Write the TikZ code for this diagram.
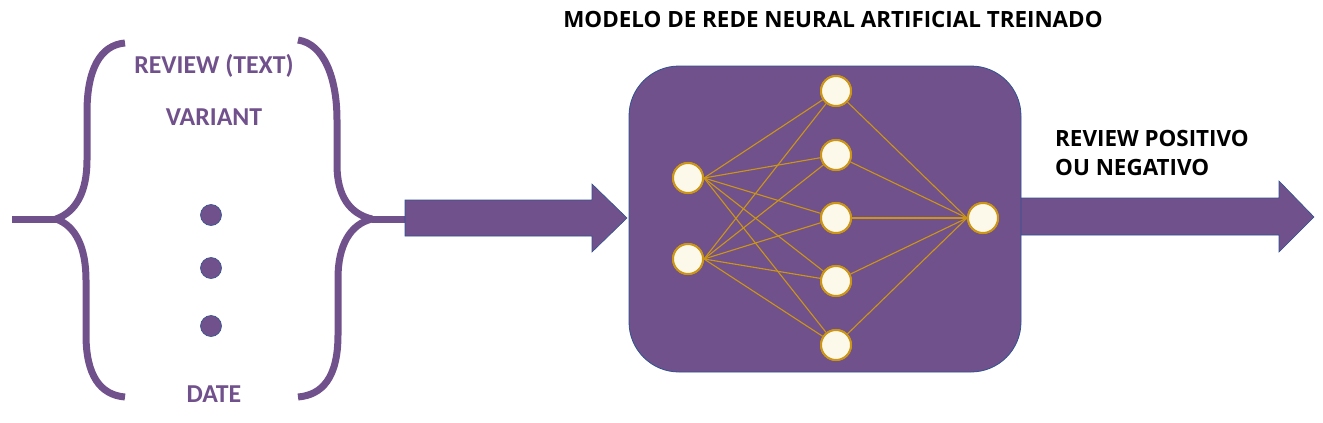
\documentclass[tikz,border=0pt]{standalone}
\usepackage{fontspec}
\setmainfont{Open Sans}
\newfontfamily\calibri{Carlito}
\usepackage{tikz}

\definecolor{lila}{RGB}{113,81,140}
\definecolor{ouro}{RGB}{204,150,20}
\definecolor{creme}{RGB}{252,248,234}
\definecolor{borda}{RGB}{47,82,143}

\begin{document}
\begin{tikzpicture}[x=1pt,y=-1pt,
		neuron/.style={circle, draw=ouro, line width=2pt, inner sep=0pt, minimum size=30pt, fill=creme},
		peso/.style={ouro, line width=1.1pt},
		chave/.style={lila, line width=7pt},
		campo/.style={lila, font=\calibri\bfseries\fontsize{25.8}{30}\selectfont, inner sep=0pt, anchor=base},
		ponto/.style={circle, fill=lila, draw=borda, line width=0.6pt, inner sep=0pt, minimum size=21pt},
		seta/.style={fill=lila, draw=borda, line width=0.6pt},
		rotulo/.style={black, font=\bfseries\fontsize{22.4}{29}\selectfont, inner sep=0pt}]
		\useasboundingbox (0,0) rectangle (1323,423);
		% entradas (chaves)
		\draw[chave] (12,219) -- (56,219);
		\draw[chave] (56,219) .. controls (76,212) and (87,192) .. (87,160) -- (87,112) .. controls (87,70) and (100,45) .. (125,43);
		\draw[chave] (56,219) .. controls (76,226) and (86,248) .. (86,280) -- (86,335) .. controls (86,375) and (100,395) .. (125,397);
		\draw[chave] (298,40) .. controls (324,44) and (337,78) .. (337,120) -- (337,165) .. controls (337,196) and (350,214) .. (372,219);
		\draw[chave] (372,219) .. controls (350,224) and (338,246) .. (338,278) -- (338,335) .. controls (338,378) and (322,395) .. (298,397);
		\draw[chave] (372,219) -- (406,219);
		\foreach \y/\alph/\name in {
			73.5/rev/REVIEW (TEXT),
			125.5/var/VARIANT,
			402.5/dat/DATE
		}{
			\node[campo] (\alph) at (214,\y) {\name};
		}
		\foreach \y/\alph in {215/p1, 268/p2, 326/p3}
		{\node[ponto] (\alph) at (211,\y) {};}
		% setas
		\filldraw[seta] (405,200) -- (592,200) -- (592,184) -- (627,218) -- (592,252) -- (592,236) -- (405,236) -- cycle;
		\filldraw[seta] (1000,198) -- (1279,198) -- (1279,181) -- (1314,217) -- (1279,252) -- (1279,235) -- (1000,235) -- cycle;
		% modelo
		\node[draw=borda, line width=0.8pt, fill=lila, rounded corners=50pt, minimum width=392pt, minimum height=306pt] (modelo) at (825,219) {};
		\node[rotulo, anchor=base] (titulo) at (833,27.5) {MODELO DE REDE NEURAL ARTIFICIAL TREINADO};
		\node[rotulo, anchor=base west, align=left] (saida) at (1055,175) {REVIEW POSITIVO\\OU NEGATIVO};
		\foreach \y/\alph in {178/i1, 259/i2}
		{\node[neuron] (\alph) at (688,\y) {};}
		\foreach \y/\alph in {91/h1, 155/h2, 218/h3, 281/h4, 345/h5}
		{\node[neuron] (\alph) at (836,\y) {};}
		\node[neuron] (o1) at (983,218) {};
		\foreach \x in {i1, i2}
		{\foreach \h in {h1, h2, h3, h4, h5}
		{\draw[peso] (\x.east) -- (\h);}}
		\foreach \h in {h1, h2, h3, h4, h5}
		{\draw[peso] (\h) -- (o1.west);}
		\foreach \n in {i1, i2, h1, h2, h3, h4, h5, o1}
		{\node[neuron] at (\n) {};}
\end{tikzpicture}
\end{document}
